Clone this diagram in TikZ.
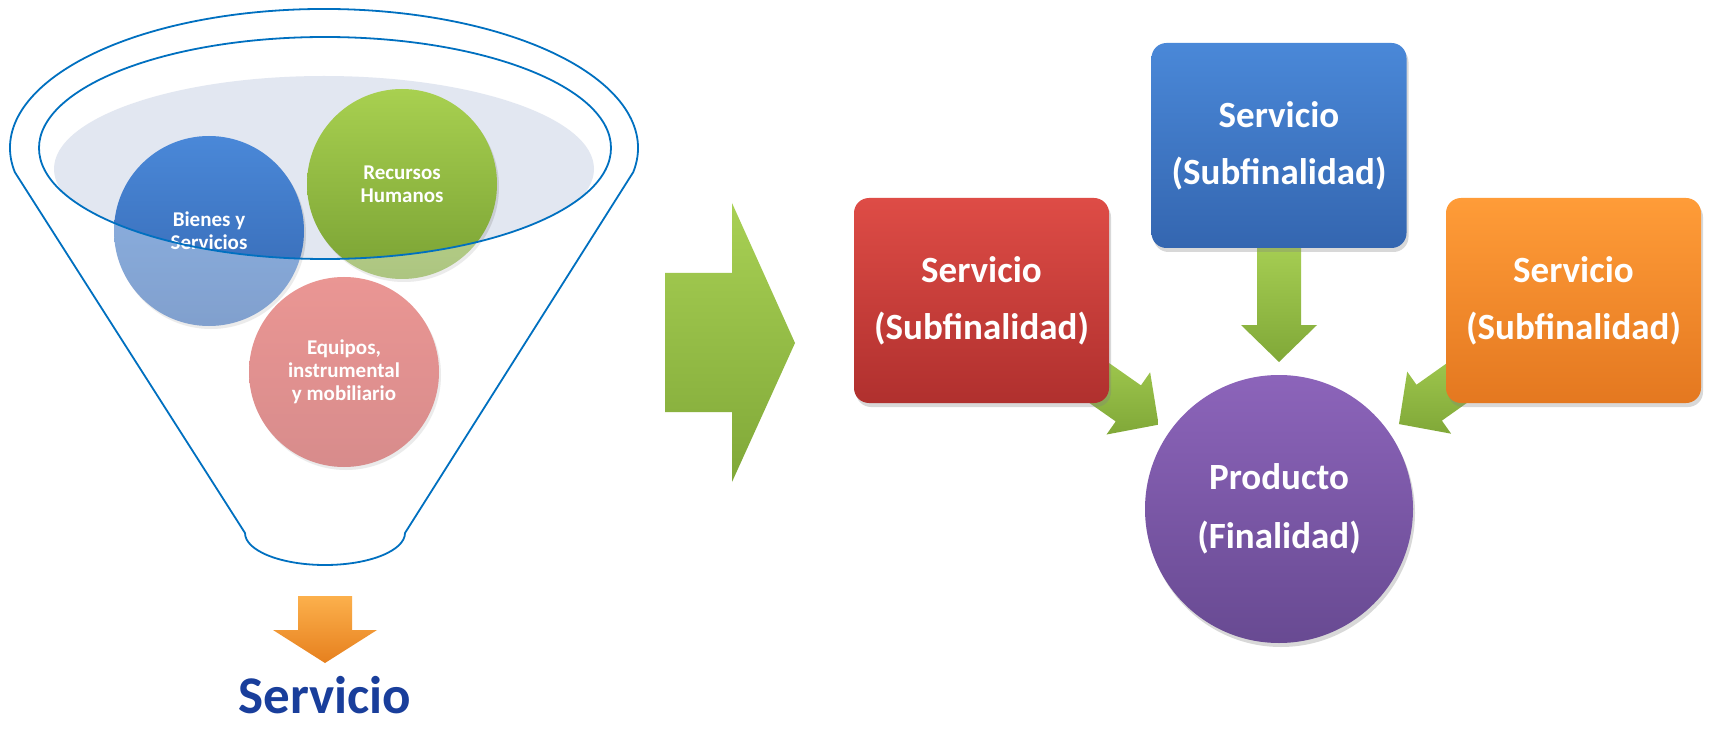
\documentclass[tikz,border=0pt]{standalone}
\usepackage{fontspec}
\newfontfamily\carl{Carlito}
\usetikzlibrary{calc,shadows}
\pgfdeclarelayer{background}
\pgfsetlayers{background,main}
\definecolor{funnelblue}{RGB}{0,112,192}
\definecolor{graybg}{RGB}{226,231,241}
\definecolor{bluetop}{RGB}{74,136,216}
\definecolor{bluebot}{RGB}{52,102,176}
\definecolor{greentop}{RGB}{168,208,80}
\definecolor{greenbot}{RGB}{122,162,52}
\definecolor{pinktop}{RGB}{222,86,82}
\definecolor{pinkbot}{RGB}{192,70,70}
\definecolor{redtop}{RGB}{222,76,70}
\definecolor{redbot}{RGB}{176,48,46}
\definecolor{orangetop}{RGB}{255,156,56}
\definecolor{orangebot}{RGB}{228,120,32}
\definecolor{purpletop}{RGB}{140,100,186}
\definecolor{purplebot}{RGB}{104,74,146}
\definecolor{agtop}{RGB}{168,208,84}
\definecolor{agbot}{RGB}{128,168,56}
\definecolor{oatop}{RGB}{252,176,76}
\definecolor{oabot}{RGB}{230,128,30}
\definecolor{textblue}{RGB}{25,62,155}
\newcommand\blockarr[5]{%
  \path ($(#2)!#3pt!(#1)$) coordinate (bT)
        ($(#2)!#4pt!(#1)$) coordinate (bB)
        ($(#2)!#5pt!(#1)$) coordinate (bS);
  \shade[top color=agtop, bottom color=agbot]
    ($(bS)!22pt!90:(bT)$) -- ($(bB)!22pt!90:(bT)$) -- ($(bB)!38pt!90:(bT)$)
    -- (bT) -- ($(bB)!38pt!-90:(bT)$) -- ($(bB)!22pt!-90:(bT)$)
    -- ($(bS)!22pt!-90:(bT)$) -- cycle;
}
\tikzset{
  funnel/.style={draw=funnelblue, line width=1.8pt},
  ball/.style={circle, minimum size=190pt, inner sep=0pt, align=center, text=white,
    font=\carl\bfseries\fontsize{21}{23}\selectfont,
    drop shadow={shadow xshift=2pt, shadow yshift=-3pt, opacity=0.25}},
  sbox/.style={rectangle, rounded corners=15pt, minimum width=255pt, minimum height=205pt,
    inner sep=0pt, align=center, text=white,
    font=\carl\bfseries\fontsize{37}{57}\selectfont,
    drop shadow={shadow xshift=2pt, shadow yshift=-4pt, opacity=0.3}},
}
\begin{document}
\begin{tikzpicture}[x=1pt,y=-1pt]
\useasboundingbox (0,0) rectangle (1709,730);
\begin{pgfonlayer}{background}
  \fill[white] (0,0) rectangle (1709,730);
\end{pgfonlayer}
% ---------- funnel ----------
\begin{scope}
  \clip (325,148) ellipse [x radius=286, y radius=111];
  \fill[graybg] (324,169) ellipse [x radius=270, y radius=93];
\end{scope}
\node[ball, top color=bluetop, bottom color=bluebot] (bienes) at (209,231) {Bienes y\\Servicios};
\node[ball, top color=greentop, bottom color=greenbot] (recursos) at (402,184) {Recursos\\Humanos};
\node[ball, top color=pinktop, bottom color=pinkbot] (equipos) at (344,372) {Equipos,\\instrumental\\y mobiliario};
\fill[white, opacity=0.38, even odd rule] (30,30) rectangle (620,480)
  (325,148) ellipse [x radius=286, y radius=111];
\draw[funnel] (325,148) ellipse [x radius=286, y radius=111];
\draw[funnel] (14.8,172.1) arc[start angle=170, end angle=370, x radius=314, y radius=139]
  -- (405,533) arc[start angle=0, end angle=180, x radius=80, y radius=32] -- cycle;
% orange down arrow
\shade[top color=oatop, bottom color=oabot]
  (298,596) -- (352,596) -- (352,630) -- (377,630) -- (325,663) -- (273,630) -- (298,630) -- cycle;
\node[anchor=base, text=textblue, font=\carl\bfseries\fontsize{53}{60}\selectfont, inner sep=0pt]
  (servicio) at (325,713) {Servicio};
% big green arrow
\shade[top color=agtop, bottom color=agbot]
  (665,273) -- (732,273) -- (732,203) -- (795,343) -- (732,482) -- (732,412) -- (665,412) -- cycle;
% ---------- right part ----------
\node[sbox, top color=redtop, bottom color=redbot] (red) at (981.5,300.5) {Servicio\\(Subfinalidad)};
\node[sbox, top color=bluetop, bottom color=bluebot] (blue) at (1279,145.5) {Servicio\\(Subfinalidad)};
\node[sbox, top color=orangetop, bottom color=orangebot] (orange) at (1573.5,300.5) {Servicio\\(Subfinalidad)};
\node[circle, minimum size=268pt, inner sep=0pt, align=center, text=white,
  font=\carl\bfseries\fontsize{37}{59}\selectfont,
  top color=purpletop, bottom color=purplebot,
  drop shadow={shadow xshift=2pt, shadow yshift=-4pt, opacity=0.3}]
  (prod) at (1279,509) {Producto\\(Finalidad)};
\begin{pgfonlayer}{background}
  \blockarr{red}{prod}{147}{184}{270}
  \blockarr{blue}{prod}{147}{184}{270}
  \blockarr{orange}{prod}{147}{184}{270}
\end{pgfonlayer}
\end{tikzpicture}
\end{document}
